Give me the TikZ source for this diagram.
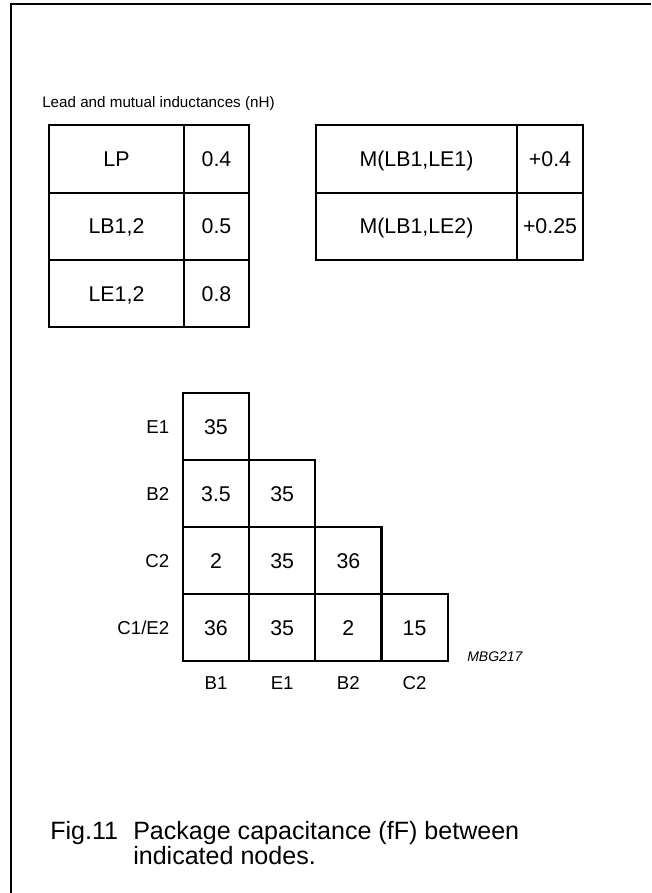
\documentclass[tikz,border=0pt]{standalone}
\usepackage{fontspec}
\setmainfont{Liberation Sans}
\usetikzlibrary{positioning}

\tikzset{
  box/.style={draw, line width=1.6pt, inner sep=0pt, outer sep=0pt,
    minimum height=50.4pt, text height=11.5pt, text depth=0pt,
    font=\fontsize{16}{19}\selectfont},
  cell/.style={box, minimum width=49.65pt, minimum height=50.25pt},
  lbl/.style={inner sep=0pt, text height=10pt, text depth=0pt,
    font=\fontsize{14}{17}\selectfont},
  captext/.style={inner sep=0pt, anchor=base west, font=\fontsize{18.8}{19.5}\selectfont},
}

\begin{document}
\begin{tikzpicture}[x=0.75pt,y=-0.75pt]
    \useasboundingbox (0,0) rectangle (651,893);

    % Frame
    \draw[line width=1.5pt] (11,893) -- (11,4) -- (651,4);

    % Lead inductances
    \node[inner sep=0pt, anchor=west, font=\fontsize{11.4}{13}\selectfont] (title) at (42,104) {Lead and mutual inductances (nH)};
    \node[box, minimum width=101.25pt] (lp) at (116.5,159) {LP};
    \node[box, minimum width=48.75pt, right=0pt of lp] (lpv) {0.4};
    \node[box, minimum width=101.25pt, below=0pt of lp] (lb) {LB1,2};
    \node[box, minimum width=48.75pt, right=0pt of lb] (lbv) {0.5};
    \node[box, minimum width=101.25pt, below=0pt of lb] (le) {LE1,2};
    \node[box, minimum width=48.75pt, right=0pt of le] (lev) {0.8};

    % Mutual inductances
    \node[box, minimum width=150.75pt] (m1) at (416.5,159) {M(LB1,LE1)};
    \node[box, minimum width=49.5pt, right=0pt of m1] (m1v) {+0.4};
    \node[box, minimum width=150.75pt, below=0pt of m1] (m2) {M(LB1,LE2)};
    \node[box, minimum width=49.5pt, right=0pt of m2] (m2v) {+0.25};

    % Capacitance triangle
    \node[cell] (e1b1) at (216,426.5) {35};
    \node[cell, below=0pt of e1b1] (b2b1) {3.5};
    \node[cell, right=0pt of b2b1] (b2e1) {35};
    \node[cell, below=0pt of b2b1] (c2b1) {2};
    \node[cell, right=0pt of c2b1] (c2e1) {35};
    \node[cell, right=0pt of c2e1] (c2b2) {36};
    \node[cell, below=0pt of c2b1] (ceb1) {36};
    \node[cell, right=0pt of ceb1] (cee1) {35};
    \node[cell, right=0pt of cee1] (ceb2) {2};
    \node[cell, right=0pt of ceb2] (cec2) {15};

    % Row and column names
    \node[lbl, left=10pt of e1b1] (rowe1) {E1};
    \node[lbl, left=10pt of b2b1] (rowb2) {B2};
    \node[lbl, left=10pt of c2b1] (rowc2) {C2};
    \node[lbl, left=10pt of ceb1] (rowce) {C1/E2};
    \node[lbl, below=11pt of ceb1] (colb1) {B1};
    \node[lbl, below=11pt of cee1] (cole1) {E1};
    \node[lbl, below=11pt of ceb2] (colb2) {B2};
    \node[lbl, below=11pt of cec2] (colc2) {C2};
    \node[inner sep=0pt, anchor=west, font=\fontsize{10.5}{12}\selectfont\itshape] (code) at (467,657) {MBG217};

    % Caption
    \node[captext] (fig) at (50,839) {Fig.11};
    \node[captext] (captxt) at (133,839) {Package capacitance (fF) between};
    \node[captext] (captxt2) at (133,864) {indicated nodes.};
\end{tikzpicture}
\end{document}
